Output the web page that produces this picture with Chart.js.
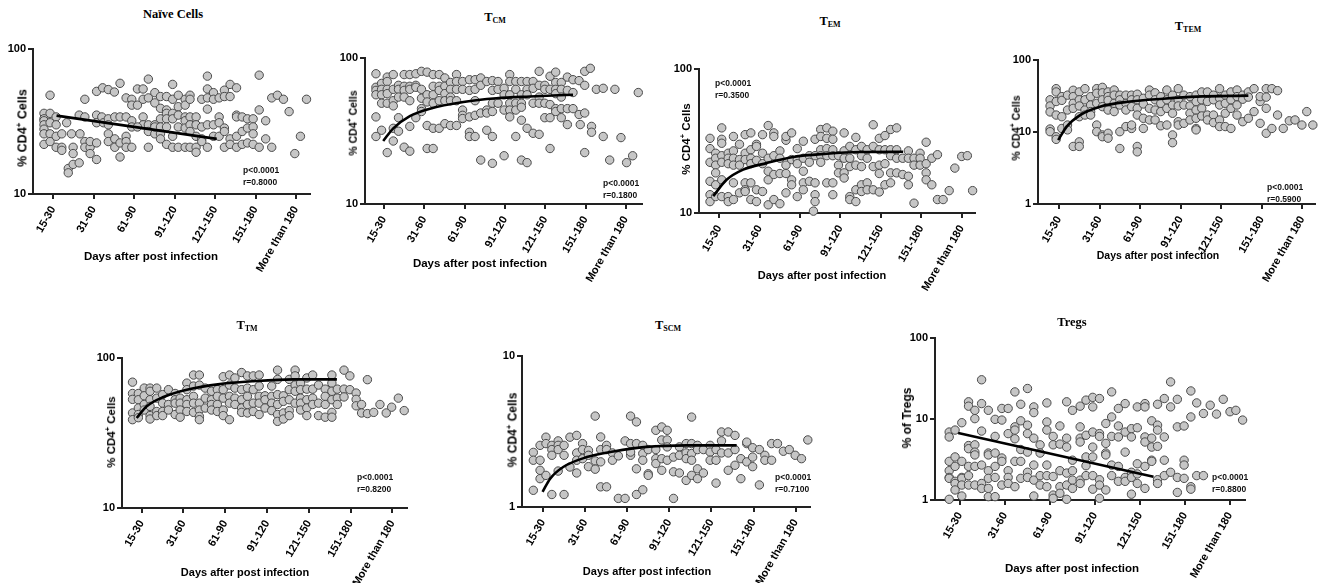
<!DOCTYPE html>
<html>
<head>
<meta charset="utf-8">
<script src="https://cdn.jsdelivr.net/npm/chart.js@4.4.1/dist/chart.umd.min.js"></script>
<style>
  body { margin: 0; background: #fff; width: 1319px; height: 583px; position: relative; overflow: hidden; }
  canvas { position: absolute; }
  .lbl { position: absolute; transform: translate(-50%, -50%); white-space: nowrap; color: #000; }
  .ptitle { font: bold 12.5px "Liberation Serif", "Times New Roman", serif; }
  .ptitle sub { font-size: 8px; vertical-align: baseline; position: relative; top: 2px; }
  .xt { font-family: "Liberation Sans", Arial, sans-serif; font-weight: bold; }
  .yt { font-family: "Liberation Sans", Arial, sans-serif; font-weight: bold; transform: translate(-50%, -50%) rotate(-90deg); }
  .yt sup { font-size: 65%; }
  .stat { position: absolute; font: bold 8.5px "Liberation Sans", Arial, sans-serif; line-height: 12px; color: #111; }
</style>
</head>
<body>
<script>
// x groups (tick i+1 -> dayGroups[i])
const dayGroups = ['15-30', '31-60', '61-90', '91-120', '121-150', '151-180', 'More than 180'];

// panel titles
const titleMain = ['Naïve Cells', 'T', 'T', 'T', 'T', 'T', 'Tregs'];
const titleSub = ['', 'CM', 'EM', 'TEM', 'TM', 'SCM', ''];
const yTitles = ['% CD4<sup>+</sup> Cells', '% CD4<sup>+</sup> Cells', '% CD4<sup>+</sup> Cells', '% CD4<sup>+</sup> Cells',
                 '% CD4<sup>+</sup> Cells', '% CD4<sup>+</sup> Cells', '% of Tregs'];
const pTexts = ['p<0.0001', 'p<0.0001', 'p<0.0001', 'p<0.0001', 'p<0.0001', 'p<0.0001', 'p<0.0001'];
const rTexts = ['r=0.8000', 'r=0.1800', 'r=0.3500', 'r=0.5900', 'r=0.8200', 'r=0.7100', 'r=0.8800'];

// y tick values (log axes)
const ticks10to100 = [10, 100];
const ticks1to100 = [1, 10, 100];
const ticks1to10 = [1, 10];

// points: [x position (group units), value]
const naivePts = [
  [0.92,48],[0.77,36],[0.77,33],[0.77,32],[0.77,30],[0.77,28],[0.77,26],[0.77,22],
  [0.92,36],[0.92,31],[0.92,26],[0.92,23],[1.07,34],[1.07,30],[1.07,25],[1.07,21],
  [1.21,26],[1.21,21],[1.21,20],[1.33,31],[1.45,26],[1.37,15],[1.49,16],[1.64,16.4],[1.37,14],
  [1.49,21],[1.49,19],[1.66,26],[1.64,35],[1.78,34],[1.78,45],[1.78,23],[1.78,21],[1.91,21],[1.91,19],[1.91,23],
  [2.07,51],[2.07,35],[2.07,31],[2.07,22.5],[2.07,17.3],[2.22,54],[2.36,52.5],[2.51,50.5],
  [2.2,34],[2.24,31],[2.36,33],[2.36,30],[2.36,26],[2.36,23],
  [2.52,34],[2.52,24],[2.52,21],[2.65,58],[2.65,34],[2.65,22.5],[2.65,18],[2.8,46],[2.8,25],[2.8,23],[2.8,21],[2.8,34],
  [2.94,45],[2.94,41],[2.94,32],[2.94,29],[2.94,21],
  [3.08,53],[3.22,53],[3.08,41],[3.22,45],[3.22,34],[3.22,30],[3.08,29],
  [3.35,62],[3.35,46],[3.35,30],[3.35,27],[3.35,21],
  [3.51,50],[3.51,42.5],[3.51,30],[3.51,26],[3.51,29],
  [3.65,47],[3.65,39],[3.65,33],[3.65,29],[3.65,26],[3.65,24],
  [3.8,47],[3.8,38],[3.8,36],[3.8,33],[3.8,29],[3.8,22],
  [3.95,57],[3.95,45],[3.95,36],[3.95,33],[3.95,25],[3.95,21],
  [4.09,48],[4.09,40],[4.09,35],[4.09,29],[4.09,21],
  [4.26,45],[4.26,41],[4.26,34],[4.26,32],[4.26,28.5],[4.26,21],
  [4.38,48],[4.38,45],[4.38,34],[4.38,30],[4.38,27],[4.38,21],
  [4.53,34],[4.53,30],[4.53,25],[4.53,21],[4.53,19.4],
  [4.67,45],[4.67,29],[4.67,24],[4.67,23],
  [4.81,65],[4.81,53],[4.81,46],[4.81,38.5],[4.81,30],[4.81,21],
  [4.96,50],[4.96,45],[4.96,30],[4.96,25],
  [5.1,46],[5.1,34],[5.1,31],[5.1,25],
  [5.23,52],[5.23,47],[5.23,28.5],[5.23,27],[5.23,21],
  [5.37,57],[5.37,47],[5.37,24],[5.37,22],
  [5.53,54],[5.53,35],[5.53,34],[5.53,25],[5.53,21],
  [5.67,34],[5.67,27],[5.67,22],[5.8,33],[5.8,28.5],[5.8,22.5],
  [5.94,33],[5.94,29],[5.94,26],[5.94,22],
  [6.09,66],[6.09,38],[6.09,21],[6.25,32],[6.25,24],[6.4,46],[6.4,21],
  [6.54,48],[6.69,45],[6.83,37],[6.97,19],[7.11,25],[7.26,45]
];
const tcmPts = [
  [0.8,78],[0.8,63],[0.8,60],[0.8,56],[0.8,39.5],[0.8,29],
  [0.94,67],[0.94,61],[0.94,56],[0.94,49],[0.94,32],
  [1.08,74],[1.08,69],[1.08,61],[1.08,57],[1.08,49],[1.08,22.5],
  [1.23,77],[1.23,61],[1.23,51],[1.23,47],[1.23,33],[1.23,27],
  [1.36,65],[1.36,61],[1.36,54],[1.36,39],[1.36,31.5],
  [1.5,77],[1.5,64],[1.5,60],[1.5,54],[1.5,24.5],
  [1.64,77],[1.64,64],[1.64,61],[1.64,51],[1.64,34],[1.64,23],
  [1.79,78],[1.79,65],[1.79,63],[1.79,39],
  [1.93,81],[1.93,61],[1.93,53],[1.93,45],[1.93,43],
  [2.07,80],[2.07,56],[2.07,50],[2.07,34.5],[2.07,24],
  [2.22,77],[2.22,64],[2.22,56],[2.22,49],[2.22,33],[2.22,24],
  [2.37,77],[2.37,64],[2.37,60],[2.37,51],[2.37,33],
  [2.51,73],[2.51,64],[2.51,57],[2.51,51],[2.51,35.5],
  [2.65,68],[2.65,61],[2.65,54],[2.65,51],[2.65,34.5],
  [2.8,77],[2.8,69],[2.8,61],[2.8,51],[2.8,34.5],
  [2.95,69],[2.95,61],[2.95,44],[2.95,40.5],[2.95,38.5],
  [3.12,71],[3.12,60],[3.12,39.5],[3.12,31],[3.12,29],
  [3.26,71],[3.26,61],[3.26,51],[3.26,40.5],[3.26,29],
  [3.4,73],[3.4,65],[3.4,42],[3.4,20],
  [3.55,69],[3.55,44],[3.55,42],[3.55,32],
  [3.69,70],[3.69,60],[3.69,49],[3.69,43],[3.69,29],[3.69,19],
  [3.83,69],[3.83,61],[3.83,49],
  [3.98,62],[3.98,56],[3.98,44],[3.98,21.4],
  [4.12,77],[4.12,69],[4.12,56],[4.12,49],[4.12,44],[4.12,39.5],
  [4.27,69],[4.27,61],[4.27,49],[4.27,44],[4.27,29],
  [4.41,69],[4.41,56],[4.41,49],[4.41,46],[4.41,37.5],[4.41,20],
  [4.55,69],[4.55,61],[4.55,56],[4.55,33],[4.55,19.2],
  [4.7,69],[4.7,62],[4.7,49],[4.7,30.5],
  [4.85,81],[4.85,65],[4.85,54],[4.85,49],[4.85,30],
  [4.99,65],[4.99,61],[4.99,49],[4.99,39],
  [5.12,75],[5.12,61],[5.12,48],[5.12,39],[5.12,24],
  [5.26,80],[5.26,68],[5.26,61],[5.26,57],[5.26,45],[5.26,43],
  [5.4,68],[5.4,61],[5.4,54],[5.4,45],[5.4,39],
  [5.55,74],[5.55,60],[5.55,45],[5.55,35],
  [5.69,71],[5.69,58],[5.69,45],[5.84,70],[5.84,41],
  [5.98,81],[5.98,65],[5.98,42],[5.98,22.5],
  [6.12,85],[5.87,35],[6.15,34],[6.15,31],
  [6.27,61],[6.44,62],[6.73,61],[6.44,29],[6.88,28.5],
  [6.6,20],[7.02,19.2],[7.17,21.4],[7.31,58]
];
const temPts = [
  [0.77,33],[0.77,28],[0.77,22.5],[0.77,16.6],[0.77,13.4],[0.77,12],
  [0.91,26],[0.91,24],[0.91,21.5],[0.91,19],[0.91,15.7],[0.91,13],
  [1.06,39],[1.06,32.5],[1.06,30.5],[1.06,25],[1.06,22.5],[1.06,17],[1.06,13],
  [1.22,26],[1.22,24],[1.22,22],[1.22,13],[1.22,12],
  [1.35,34],[1.35,27],[1.35,24],[1.35,21.5],[1.35,16.2],[1.35,12.4],
  [1.5,30],[1.5,23.5],[1.5,21.5],[1.5,13.8],
  [1.64,35],[1.64,26],[1.64,23.5],[1.64,16.2],[1.64,14.5],[1.64,14.1],
  [1.78,36],[1.78,27.5],[1.78,24],[1.78,22],[1.78,16.2],[1.78,12.4],
  [1.92,30],[1.92,29],[1.92,23.2],[1.92,14.5],[1.92,12],
  [2.07,35],[2.07,26],[2.07,22],[2.07,14.1],
  [2.21,40.5],[2.21,24],[2.21,19.5],[2.21,17],[2.21,11.4],
  [2.35,36],[2.35,34],[2.35,25],[2.35,18.5],[2.35,12.4],
  [2.5,27],[2.5,24],[2.5,18.8],[2.5,11.6],
  [2.65,32],[2.65,34],[2.65,21.5],[2.65,18.8],[2.65,13.8],
  [2.79,36],[2.79,23.5],[2.79,17],[2.79,15.7],
  [2.93,28],[2.93,23.5],[2.93,22],[2.93,13],
  [3.08,31.5],[3.08,24],[3.08,19.5],[3.08,16.2],[3.08,14.5],
  [3.23,25],[3.23,22.5],[3.23,16.6],
  [3.37,32.5],[3.37,25],[3.37,16.2],[3.37,13.4],[3.37,12],[3.33,10.3],
  [3.51,38],[3.51,34],[3.51,27.5],[3.51,25],[3.51,22.5],
  [3.66,39],[3.66,33],[3.66,28],[3.66,25],[3.66,16.2],
  [3.81,37],[3.81,32.5],[3.81,27.5],[3.81,25],[3.81,16.2],[3.81,13.4],
  [3.95,25],[3.95,21.5],[3.95,19],
  [4.09,36],[4.09,27],[4.09,24],[4.09,19],[4.09,17.5],
  [4.23,29],[4.23,24],[4.23,21],[4.23,13],[4.23,12.4],
  [4.38,33.5],[4.38,27.5],[4.38,21.5],[4.38,14.5],[4.38,12],
  [4.52,29],[4.52,25],[4.52,21],[4.52,15.7],[4.52,14.1],
  [4.66,27.5],[4.66,24],[4.66,16.2],[4.66,14.5],
  [4.81,41],[4.81,29],[4.81,21],[4.81,14.5],
  [4.96,33],[4.96,27.5],[4.96,21.5],[4.96,18.8],[4.96,14],
  [5.1,34.5],[5.1,27.5],[5.1,22],[5.1,15.7],
  [5.24,38],[5.24,27.5],[5.24,25],[5.24,19],[5.24,16.2],
  [5.39,39],[5.39,27.5],[5.39,24],[5.39,19],
  [5.54,24],[5.54,18.5],
  [5.68,27],[5.68,24],[5.68,18],[5.68,15.7],
  [5.82,24],[5.82,21.5],[5.82,11.7],
  [5.97,26],[5.97,24],[5.97,21.5],
  [6.12,31],[6.12,22],[6.12,19],[6.12,17],
  [6.26,24],[6.26,15.7],[6.4,25.4],[6.4,12.4],[6.54,12.4],[6.69,14.3],
  [6.83,20.5],[7.0,24.7],[7.14,25],[7.27,14.3]
];
const ttemPts = [
  [0.78,28],[0.78,23],[0.78,19],[0.78,11],[0.78,10.1],
  [0.93,40],[0.93,36],[0.93,26.5],[0.93,17.2],[0.93,8.6],[0.93,7.9],
  [1.07,31],[1.07,27.5],[1.07,16.3],[1.07,11.2],
  [1.21,32.5],[1.21,20.2],[1.21,12.5],[1.21,10.7],
  [1.35,38],[1.35,31],[1.35,25],[1.35,21.3],[1.35,6.3],
  [1.5,36],[1.5,28],[1.5,23],[1.5,16.3],[1.5,7.3],[1.5,6.3],
  [1.64,40],[1.64,28],[1.64,20.2],[1.64,17.2],
  [1.78,31],[1.78,23.7],[1.78,19.2],[1.78,17.2],
  [1.93,40],[1.93,34.5],[1.93,25],[1.93,12.5],[1.93,10.1],
  [2.07,41.7],[2.07,35],[2.07,28],[2.07,22.5],[2.07,9.1],[2.07,8.6],
  [2.21,36],[2.21,31],[2.21,27.5],[2.21,20.2],[2.21,9.6],[2.21,8.2],
  [2.36,38.3],[2.36,32.5],[2.36,25],[2.36,19.2],
  [2.5,32.5],[2.5,28],[2.5,23.7],[2.5,10.1],[2.5,5.9],
  [2.65,32.5],[2.65,25],[2.65,20.2],[2.65,11.9],
  [2.79,32.5],[2.79,28],[2.79,22.5],[2.79,11.2],[2.79,12.5],
  [2.93,33.5],[2.93,28],[2.93,21.3],[2.93,17.2],[2.93,6.3],[2.93,5.3],
  [3.08,29.4],[3.08,24.5],[3.08,15.5],[3.08,11.2],
  [3.23,38.3],[3.23,32.5],[3.23,21.3],[3.23,14.7],
  [3.37,35],[3.37,28],[3.37,20.2],[3.37,14.7],
  [3.51,31],[3.51,25],[3.51,19.2],[3.51,12.2],
  [3.66,38.3],[3.66,28],[3.66,21.3],[3.66,12.5],
  [3.8,32.5],[3.8,23.7],[3.8,18.2],[3.8,9.1],[3.8,7.1],
  [3.94,40],[3.94,28],[3.94,23],[3.94,13.9],[3.94,12.5],
  [4.08,32.5],[4.08,23.7],[4.08,13.2],
  [4.23,31],[4.23,23],[4.23,18.2],[4.23,14.7],
  [4.38,32.5],[4.38,26.5],[4.38,20.2],[4.38,15.5],[4.38,11.2],[4.38,10.7],
  [4.52,36],[4.52,28],[4.52,21.3],[4.52,16.7],
  [4.66,36],[4.66,26.5],[4.66,17.2],[4.66,14.7],
  [4.81,32.5],[4.81,28],[4.81,17.2],[4.81,13.5],
  [4.96,40],[4.96,29.4],[4.96,23.7],[4.96,14.7],[4.96,11.9],
  [5.1,32.5],[5.1,25],[5.1,18.2],[5.1,11.9],
  [5.24,36],[5.24,28],[5.24,21.3],[5.24,11.2],
  [5.39,38.3],[5.39,31],[5.39,23.7],[5.39,17.2],
  [5.53,32.5],[5.53,28.5],[5.53,13.9],
  [5.67,36],[5.67,30.5],[5.67,15.5],
  [5.81,40],[5.81,19.2],
  [5.96,26.5],[5.96,31],[5.96,13.2],
  [6.11,40],[6.11,30.5],[6.11,21.3],[6.11,9.6],
  [6.25,40],[6.25,11.2],[6.39,37.5],[6.39,17.2],
  [6.53,11.2],[6.68,14.3],[6.82,14.7],[6.99,12.5],[7.11,19.2],[7.26,12.5]
];
const ttmPts = [
  [0.78,69],[0.78,58],[0.78,53],[0.78,43],[0.78,38.8],
  [0.92,58],[0.92,52.7],[0.92,46.4],[0.92,42],[0.92,40],
  [1.06,63],[1.06,56],[1.06,49],[1.06,45],
  [1.2,63],[1.2,60],[1.2,52.7],[1.2,47.6],[1.2,41.3],[1.2,39.2],
  [1.36,63],[1.36,54],[1.36,44],[1.36,41.3],
  [1.5,57],[1.5,50],[1.5,44],[1.5,41.3],
  [1.64,61.5],[1.64,49],[1.64,45],
  [1.8,58],[1.8,52.7],[1.8,50],[1.8,42],
  [1.92,54],[1.92,50],[1.92,45],[1.92,40.3],
  [2.08,68],[2.08,61.5],[2.08,52.7],[2.08,49],[2.08,44],
  [2.24,77],[2.24,65],[2.24,55.5],[2.24,50],[2.24,43.4],
  [2.38,77],[2.38,66],[2.38,50],[2.38,45],[2.38,40.8],[2.38,38.8],
  [2.52,63],[2.52,54],[2.52,46.4],
  [2.67,60],[2.67,52.7],[2.67,49],[2.67,45],
  [2.81,61.5],[2.81,55.5],[2.81,49],[2.81,44],
  [2.95,75],[2.95,61.5],[2.95,54],[2.95,45],[2.95,41.3],
  [3.1,77],[3.1,66],[3.1,55.5],[3.1,50],[3.1,38.8],
  [3.23,73.6],[3.23,63],[3.23,54],[3.23,49],
  [3.39,80],[3.39,61.5],[3.39,52.7],[3.39,46.4],[3.39,43.4],
  [3.53,76],[3.53,63],[3.53,55.5],[3.53,49],[3.53,43],
  [3.67,76],[3.67,61.5],[3.67,50],[3.67,44],
  [3.81,77],[3.81,65],[3.81,55.5],[3.81,50],[3.81,42],
  [3.95,56],[3.95,52.7],[3.95,46.4],
  [4.11,65],[4.11,55.5],[4.11,50],[4.11,44.6],
  [4.25,83],[4.25,72],[4.25,57],[4.25,49],[4.25,42],[4.25,37.8],
  [4.39,56],[4.39,51.4],[4.39,43],[4.39,39.2],
  [4.53,72],[4.53,61.5],[4.53,52.7],[4.53,44.6],[4.53,41.3],
  [4.67,83],[4.67,76],[4.67,66],[4.67,60],[4.67,50],
  [4.8,68],[4.8,61.5],[4.8,54],[4.8,50],[4.8,45],
  [4.95,73.6],[4.95,62],[4.95,52.7],[4.95,46.4],[4.95,41.3],
  [5.09,77],[5.09,62],[5.09,54],[5.09,49],
  [5.23,66],[5.23,50],[5.23,41.3],
  [5.39,62],[5.39,55.5],[5.39,49],[5.39,40.3],
  [5.55,77],[5.55,68],[5.55,60],[5.55,52.7],[5.55,43.4],[5.55,40.3],
  [5.68,62],[5.68,54],[5.68,49],
  [5.84,83],[5.84,62],[5.84,55],
  [5.98,76],[5.98,61.5],
  [6.13,58.4],[6.13,53],[6.13,48],
  [6.26,49],[6.26,43],[6.4,71.7],[6.4,42.6],
  [6.55,43.4],[6.7,49],[6.85,43],[6.98,47],[7.14,54],[7.28,44.6]
];
const tscmPts = [
  [0.77,2.3],[0.77,2.04],[0.77,1.29],
  [0.93,2.56],[0.93,2.04],[0.93,1.75],[0.93,1.54],
  [1.07,2.9],[1.07,2.63],[1.07,1.62],
  [1.21,2.56],[1.21,2.4],[1.21,2.2],[1.21,1.21],
  [1.36,2.74],[1.36,2.56],[1.36,2.4],[1.36,1.73],
  [1.5,2.56],[1.5,2.2],[1.5,1.21],
  [1.64,2.9],[1.64,1.84],
  [1.8,2.98],[1.8,2.28],[1.8,2.04],[1.8,1.68],
  [1.94,2.63],[1.94,2.4],[1.94,2.09],
  [2.08,2.37],[2.08,2.2],[2.08,1.85],
  [2.24,2.02],[2.24,1.78],[2.24,4.0],
  [2.37,2.91],[2.37,2.4],[2.37,1.99],[2.37,1.36],
  [2.51,2.56],[2.51,2.4],[2.51,1.36],
  [2.65,2.28],[2.65,2.04],
  [2.79,1.14],[2.79,2.18],
  [2.95,2.74],[2.95,1.14],
  [3.08,4.0],[3.08,2.63],[3.08,2.2],[3.08,2.31],
  [3.22,3.66],[3.22,2.63],[3.22,1.79],[3.22,1.21],
  [3.37,2.56],[3.37,2.26],[3.37,2.04],[3.37,1.3],
  [3.5,2.4],[3.5,1.66],[3.5,1.62],
  [3.68,3.22],[3.68,2.4],[3.68,2.09],[3.68,1.94],
  [3.82,3.39],[3.82,2.78],[3.82,2.09],[3.82,1.75],
  [3.95,3.22],[3.95,2.78],[3.95,2.5],[3.95,2.04],
  [4.1,1.14],[4.1,2.14],[4.1,1.71],
  [4.24,2.5],[4.24,2.2],[4.24,1.68],
  [4.4,2.63],[4.4,2.28],[4.4,2.09],[4.4,1.5],
  [4.53,3.94],[4.53,2.63],[4.53,2.26],[4.53,2.04],[4.53,1.62],
  [4.67,2.56],[4.67,2.4],[4.67,1.79],[4.67,1.54],
  [4.81,2.4],[4.81,1.68],
  [4.97,2.56],[4.97,2.31],[4.97,2.04],
  [5.11,2.4],[5.11,1.44],[5.11,2.04],
  [5.24,3.14],[5.24,2.74],[5.24,2.28],
  [5.4,3.14],[5.4,2.28],[5.4,1.75],
  [5.56,2.98],[5.56,2.4],[5.56,1.89],
  [5.7,2.09],[5.7,1.54],
  [5.84,2.63],[5.84,2.69],[5.84,1.99],
  [5.98,2.47],[5.98,2.14],[5.98,1.85],
  [6.14,2.4],[6.14,1.4],[6.27,2.2],[6.27,2.04],
  [6.43,2.63],[6.43,2.04],[6.57,2.63],[6.71,2.34],[6.85,2.4],[6.99,2.2],[7.14,2.09],[7.29,2.78]
];
const tregPts = [
  [0.76,6.9],[0.76,6.0],[0.76,3.0],[0.76,2.3],[0.76,1.9],[0.76,1.85],[0.76,1.02],
  [0.89,7.3],[0.89,3.4],[0.89,2.6],[0.89,1.7],[0.89,1.6],[0.89,1.33],
  [1.04,9.0],[1.04,3.0],[1.04,1.9],[1.04,1.85],[1.04,1.53],[1.04,1.12],
  [1.19,16.3],[1.19,14.4],[1.19,4.7],[1.19,4.3],[1.19,2.6],[1.19,2.0],[1.19,1.53],
  [1.33,12.8],[1.33,10.1],[1.33,4.8],[1.33,3.9],[1.33,3.6],[1.33,2.6],[1.33,1.53],
  [1.48,30.5],[1.48,15.5],[1.48,7.1],[1.48,2.7],[1.48,1.6],[1.48,1.39],
  [1.63,12.8],[1.63,3.8],[1.63,3.6],[1.63,2.3],[1.63,1.85],[1.63,1.39],[1.63,1.1],
  [1.78,9.9],[1.78,6.1],[1.78,3.8],[1.78,2.6],[1.78,1.9],[1.78,1.1],
  [1.93,13.5],[1.93,9.7],[1.93,3.3],[1.93,3.0],[1.93,1.53],
  [2.07,13.5],[2.07,6.6],[2.07,2.3],[2.07,1.9],[2.07,1.6],
  [2.22,21.6],[2.22,8.0],[2.22,7.3],[2.22,5.7],[2.22,3.0],[2.22,1.46],
  [2.35,15.2],[2.35,9.5],[2.35,4.2],[2.35,3.0],[2.35,1.85],
  [2.5,23.8],[2.5,8.4],[2.5,6.6],[2.5,3.9],[2.5,2.2],[2.5,1.9],
  [2.64,14.1],[2.64,12.0],[2.64,5.8],[2.64,2.7],[2.64,1.76],[2.64,1.12],
  [2.78,4.8],[2.78,3.8],[2.78,2.0],[2.78,1.53],
  [2.93,15.8],[2.93,9.2],[2.93,7.3],[2.93,2.7],[2.93,2.0],[2.93,1.46],
  [3.07,6.1],[3.07,4.8],[3.07,1.95],[3.07,1.15],[3.07,1.05],
  [3.22,8.2],[3.22,4.9],[3.22,2.3],[3.22,1.46],[3.22,1.21],
  [3.37,16.3],[3.37,5.8],[3.37,4.5],[3.37,2.15],[3.37,1.53],[3.37,1.02],
  [3.5,12.8],[3.5,3.1],[3.5,2.3],[3.5,1.76],[3.5,1.39],
  [3.67,14.4],[3.67,8.0],[3.67,5.8],[3.67,5.2],[3.67,1.76],[3.67,1.6],
  [3.8,17.1],[3.8,6.3],[3.8,3.4],[3.8,2.65],[3.8,2.0],
  [3.95,18.5],[3.95,14.1],[3.95,6.9],[3.95,4.5],[3.95,3.4],[3.95,2.0],[3.95,1.36],
  [4.1,17.9],[4.1,6.6],[4.1,6.1],[4.1,1.78],[4.1,1.53],[4.1,1.05],
  [4.24,8.8],[4.24,5.0],[4.24,3.8],[4.24,3.6],[4.24,1.33],
  [4.37,21.6],[4.37,10.6],[4.37,6.1],[4.37,2.7],[4.37,2.0],
  [4.52,13.5],[4.52,8.2],[4.52,6.0],[4.52,2.6],[4.52,1.7],
  [4.67,15.5],[4.67,6.9],[4.67,3.9],[4.67,1.9],[4.67,1.7],
  [4.81,7.6],[4.81,6.0],[4.81,2.2],[4.81,1.9],[4.81,1.18],
  [4.94,14.1],[4.94,7.8],[4.94,2.8],[4.94,2.1],[4.94,1.6],
  [5.11,15.5],[5.11,14.1],[5.11,6.0],[5.11,5.2],[5.11,2.6],[5.11,1.39],
  [5.26,9.5],[5.26,5.8],[5.26,4.5],[5.26,3.1],[5.26,3.0],
  [5.39,15.2],[5.39,8.4],[5.39,7.3],[5.39,4.6],[5.39,1.78],[5.39,1.6],
  [5.54,17.9],[5.54,6.0],[5.54,3.1],[5.54,2.0],
  [5.68,2.2],[5.68,28.7],[5.68,14.1],
  [5.83,17.5],[5.83,8.0],[5.83,1.9],[5.83,1.24],
  [5.98,8.2],[5.98,3.1],[5.98,2.7],[5.98,1.85],
  [6.13,22.2],[6.13,10.6],[6.13,1.46],[6.13,1.36],
  [6.26,15.8],[6.26,2.0],[6.41,11.7],[6.41,2.0],
  [6.56,14.8],[6.7,11.5],[6.85,17.5],[7.0,12.3],[7.13,12.8],[7.28,9.7]
];

// fitted trend lines
const naiveFit = [[1.08,34.7],[5.04,24]];
const tcmFit = [[0.98,27],[1.23,33],[1.64,40],[2.14,45],[2.97,50],[3.79,53],[4.62,54.5],[5.69,56]];
const temFit = [[0.85,13.1],[1.18,17],[1.59,20],[2.17,22.2],[2.83,24.5],[3.66,25.8],[4.48,26.5],[5.55,26.6]];
const ttemFit = [[0.98,7.7],[1.19,11.9],[1.52,17.2],[2.01,22.5],[2.75,26.5],[3.57,29],[4.39,31],[5.67,32]];
const ttmFit = [[0.88,39.8],[1.12,47.6],[1.52,55],[2.08,61.5],[2.87,67],[3.67,70],[4.63,72],[5.67,72]];
const tscmFit = [[0.99,1.26],[1.17,1.54],[1.48,1.84],[2.04,2.14],[2.67,2.33],[3.46,2.5],[4.41,2.56],[5.6,2.56]];
const tregFit = [[0.96,6.7],[5.3,1.94]];

// layout of each panel on the page (axis box in px, first tick px and tick step)
const panels = [
  { pts: naivePts, fit: naiveFit, yt: ticks10to100, L: 33, R: 310, T: 49, B: 194, t1: 53.3, step: 40.45,
    title: [173, 14], xTitle: [151, 256, 11.5], yTitle: [22, 128, 12.5], stat: [243, 164] },
  { pts: tcmPts, fit: tcmFit, yt: ticks10to100, L: 365, R: 642, T: 58, B: 204, t1: 384, step: 40.3,
    title: [495, 17], xTitle: [480, 263, 11.5], yTitle: [352, 123, 10.5], stat: [603, 177] },
  { pts: temPts, fit: temFit, yt: ticks10to100, L: 699, R: 975, T: 69, B: 213, t1: 719.3, step: 40.4,
    title: [830, 21], xTitle: [822, 275, 11], yTitle: [685, 139, 11.5], stat: [715, 77] },
  { pts: ttemPts, fit: ttemFit, yt: ticks1to100, L: 1038, R: 1315, T: 60, B: 204, t1: 1059, step: 40.55,
    title: [1188, 26], xTitle: [1158, 255, 10.5], yTitle: [1015, 128, 10.5], stat: [1267, 181] },
  { pts: ttmPts, fit: ttmFit, yt: ticks10to100, L: 122, R: 407, T: 358, B: 508, t1: 141.7, step: 41.8,
    title: [247, 325], xTitle: [245, 572, 11], yTitle: [110, 432, 11.5], stat: [357, 471] },
  { pts: tscmPts, fit: tscmFit, yt: ticks1to10, L: 522, R: 810, T: 356, B: 507, t1: 543, step: 42.1,
    title: [668, 325], xTitle: [647, 571, 11], yTitle: [512, 430, 12], stat: [775, 471] },
  { pts: tregPts, fit: tregFit, yt: ticks1to100, L: 935, R: 1245, T: 338, B: 500, t1: 960, step: 45,
    title: [1072, 322], xTitle: [1072, 568, 11.5], yTitle: [907, 418, 12], stat: [1212, 471] }
];

const YW = 50, XH = 80, PT = 10, PR = 22;
const tickFont = { family: '"Liberation Sans", Arial, sans-serif', size: 11, weight: 'bold' };

function addLabel(html, cls, x, y, size) {
  const d = document.createElement('div');
  d.className = 'lbl ' + cls;
  d.innerHTML = html;
  d.style.left = x + 'px';
  d.style.top = y + 'px';
  if (size) d.style.fontSize = size + 'px';
  document.body.appendChild(d);
}

panels.forEach((p, i) => {
  const cv = document.createElement('canvas');
  cv.width = YW + (p.R - p.L) + PR;
  cv.height = PT + (p.B - p.T) + XH;
  cv.style.left = (p.L - YW) + 'px';
  cv.style.top = (p.T - PT) + 'px';
  document.body.appendChild(cv);

  const xmin = 1 - (p.t1 - p.L) / p.step;
  const xmax = 1 + (p.R - p.t1) / p.step;
  const curved = p.fit.length > 2;

  new Chart(cv.getContext('2d'), {
    type: 'scatter',
    data: {
      datasets: [
        {
          data: p.fit.map(([x, y]) => ({ x, y })),
          showLine: true,
          borderColor: '#000',
          borderWidth: 2.6,
          pointRadius: 0,
          tension: curved ? 0.4 : 0,
          cubicInterpolationMode: curved ? 'monotone' : 'default',
          clip: false,
          order: 0
        },
        {
          data: p.pts.map(([x, y]) => ({ x, y })),
          backgroundColor: '#c6c6c6',
          borderColor: '#4a4a4a',
          borderWidth: 1,
          pointRadius: 4.2,
          clip: false,
          order: 1
        }
      ]
    },
    options: {
      responsive: false,
      animation: false,
      layout: { padding: { top: PT, right: PR, left: 0, bottom: 0 } },
      plugins: { legend: { display: false }, tooltip: { enabled: false } },
      scales: {
        x: {
          type: 'linear',
          min: xmin,
          max: xmax,
          afterBuildTicks: s => { s.ticks = dayGroups.map((_, k) => ({ value: k + 1 })); },
          afterFit: s => { s.height = XH; },
          ticks: {
            autoSkip: false,
            minRotation: 60,
            maxRotation: 60,
            padding: 5,
            color: '#000',
            font: tickFont,
            callback: v => dayGroups[Math.round(v) - 1]
          },
          grid: { drawOnChartArea: false, drawTicks: true, tickLength: 5, color: '#222', lineWidth: 2 },
          border: { color: '#222', width: 2 }
        },
        y: {
          type: 'logarithmic',
          min: p.yt[0],
          max: p.yt[p.yt.length - 1],
          afterBuildTicks: s => { s.ticks = p.yt.map(v => ({ value: v })); },
          afterFit: s => { s.width = YW; },
          ticks: { padding: 2, color: '#000', font: tickFont, callback: v => String(v) },
          grid: { drawOnChartArea: false, drawTicks: true, tickLength: 5, color: '#222', lineWidth: 2 },
          border: { color: '#222', width: 2 }
        }
      }
    }
  });

  const t = titleSub[i] ? titleMain[i] + '<sub>' + titleSub[i] + '</sub>' : titleMain[i];
  addLabel(t, 'ptitle', p.title[0], p.title[1]);
  addLabel('Days after post infection', 'xt', p.xTitle[0], p.xTitle[1], p.xTitle[2]);
  addLabel(yTitles[i], 'yt', p.yTitle[0], p.yTitle[1], p.yTitle[2]);

  const st = document.createElement('div');
  st.className = 'stat';
  st.innerHTML = pTexts[i] + '<br>' + rTexts[i];
  st.style.left = p.stat[0] + 'px';
  st.style.top = p.stat[1] + 'px';
  document.body.appendChild(st);
});
</script>
</body>
</html>
